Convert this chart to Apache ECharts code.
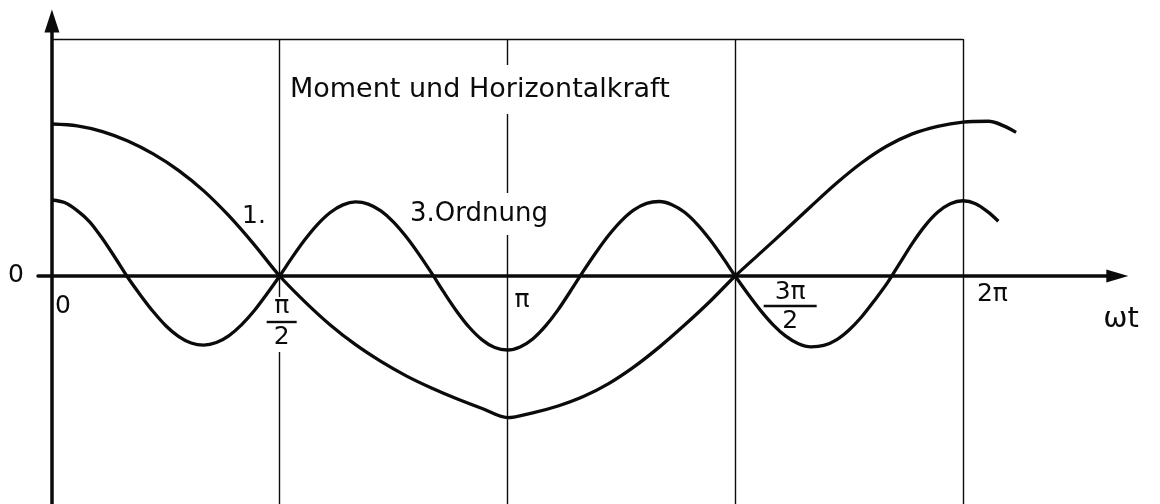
<!DOCTYPE html>
<html>
<head>
<meta charset="utf-8">
<script src="https://cdn.jsdelivr.net/npm/echarts@6/dist/echarts.min.js"></script>
<style>
html, body { margin: 0; padding: 0; background: #ffffff; }
#chart { width: 1160px; height: 504px; }
</style>
</head>
<body>
<div id="chart"></div>
<script>
// ---------------- data (angle ωt in degrees, relative amplitude) ----------------
const c1Angles = [0, 10, 20, 30, 40, 50, 60, 70, 80, 90, 100, 110, 120, 130, 140, 150, 160, 170, 180,
  190, 200, 210, 220, 230, 240, 250, 260, 270, 280, 290, 300, 310, 320, 330, 340, 350, 360, 370, 381];
const c1Values = [1.0, 0.988, 0.95, 0.888, 0.803, 0.695, 0.56, 0.395, 0.205, 0, -0.17, -0.322, -0.452, -0.562,
  -0.657, -0.737, -0.808, -0.872, -0.932, -0.90, -0.855, -0.793, -0.708, -0.598, -0.468, -0.323, -0.168, 0,
  0.152, 0.304, 0.459, 0.61, 0.745, 0.855, 0.935, 0.985, 1.013, 1.018, 0.945];

const c3Angles = [0, 5, 10, 15, 20, 25, 30, 35, 40, 45, 50, 55, 60, 65, 70, 75, 80, 85, 90,
  95, 100, 105, 110, 115, 120, 125, 130, 135, 140, 145, 150, 155, 160, 165, 170, 175, 180,
  185, 190, 195, 200, 205, 210, 215, 220, 225, 230, 235, 240, 245, 250, 255, 260, 265, 270,
  275, 280, 285, 290, 295, 300, 305, 310, 315, 320, 325, 330, 335, 340, 345, 350, 355, 360,
  365, 370, 374];
const c3Values = [0.50, 0.483, 0.43, 0.355, 0.245, 0.12, -0.01, -0.126, -0.234, -0.327, -0.397, -0.441, -0.455,
  -0.438, -0.392, -0.32, -0.227, -0.117, 0,
  0.124, 0.24, 0.34, 0.418, 0.468, 0.487, 0.473, 0.428, 0.355, 0.258, 0.144, 0.02,
  -0.11, -0.233, -0.339, -0.42, -0.471, -0.487,
  -0.467, -0.414, -0.33, -0.223, -0.097, 0.032, 0.155, 0.268, 0.363, 0.435, 0.478, 0.49,
  0.469, 0.419, 0.34, 0.24, 0.124, 0,
  -0.117, -0.226, -0.321, -0.396, -0.446, -0.466, -0.457, -0.42, -0.355, -0.268, -0.162, -0.049,
  0.083, 0.215, 0.33, 0.419, 0.475, 0.495,
  0.476, 0.42, 0.36];

const tickAngles = [0, 90, 180, 270, 360];
const tickNumerators = ['0', 'π', 'π', '3π', '2π'];
const tickDenominators = ['', '2', '', '2', ''];
const gridLineAngles = [90, 180, 270, 360];
const frameTopValue = 1.559;

const titleText = 'Moment und Horizontalkraft';
const label1Text = '1.';
const label3Text = '3.Ordnung';
const xAxisName = 'ωt';
const yZeroLabel = '0';

// ---------------- chart ----------------
const INK = '#0b0b0b';
const FONT = '"DejaVu Sans", "Liberation Sans", sans-serif';
const xMin = -5.5, xMax = 421, yMin = -1.5, yMax = 1.6776;

const chart = echarts.init(document.getElementById('chart'), null, { renderer: 'canvas' });

const frameLines = gridLineAngles.map(a => [{ coord: [a, frameTopValue] }, { coord: [a, yMin] }]);
frameLines.push([{ coord: [0, frameTopValue] }, { coord: [gridLineAngles[gridLineAngles.length - 1], frameTopValue] }]);

chart.setOption({
  animation: false,
  backgroundColor: '#ffffff',
  grid: { left: 38, right: 42.7, top: 21, bottom: 0, containLabel: false, outerBoundsMode: 'none' },
  xAxis: {
    type: 'value', min: xMin, max: xMax,
    axisLine: { onZero: true, lineStyle: { color: INK, width: 3.5 }, symbol: ['none', 'triangle'], symbolSize: [13, 22] },
    axisTick: { show: false }, axisLabel: { show: false }, splitLine: { show: false }
  },
  yAxis: {
    type: 'value', min: yMin, max: yMax, interval: 0.25,
    axisLine: { onZero: true, lineStyle: { color: INK, width: 3.5 }, symbol: ['none', 'triangle'], symbolSize: [15, 23] },
    axisTick: { show: false }, splitLine: { show: false },
    axisLabel: { formatter: v => (Math.abs(v) < 1e-9 ? yZeroLabel : ''), margin: 14, fontSize: 25, color: INK, fontFamily: FONT }
  },
  series: [
    {
      type: 'line', name: 'frame', data: [], silent: true, z: 1,
      markLine: { z: 1, silent: true, symbol: ['none', 'none'], label: { show: false },
        lineStyle: { type: 'solid', color: INK, width: 1.4 }, data: frameLines }
    },
    {
      type: 'line', name: '1. Ordnung', data: c1Angles.map((a, i) => [a, c1Values[i]]),
      smooth: 0.3, symbol: 'none', z: 4, lineStyle: { color: INK, width: 3.3 }
    },
    {
      type: 'line', name: '3. Ordnung', data: c3Angles.map((a, i) => [a, c3Values[i]]),
      smooth: 0.3, symbol: 'none', z: 4, lineStyle: { color: INK, width: 3.3 }
    }
  ]
});

// ---------------- text annotations (anchored through the axes' scales) ----------------
const tickLayout = {
  0:   { dx: 3, dy: 31 },
  90:  { frac: true, dx: 2, numDy: 31, barDy: 46, denDy: 62, barW: 30, mask: [297, 352] },
  180: { dx: 7, dy: 25 },
  270: { frac: true, dx: 55, numDy: 17, barDy: 30, denDy: 46, barW: 53 },
  360: { dx: 14, dy: 19 }
};
const tickFont = '25px ' + FONT;
const elements = [];
tickAngles.forEach((a, i) => {
  const p = chart.convertToPixel({ gridIndex: 0 }, [a, 0]);
  const L = tickLayout[a];
  if (!L.frac) {
    elements.push({ type: 'text', x: p[0] + L.dx, y: p[1] + L.dy, z: 3,
      style: { text: tickNumerators[i], font: tickFont, fill: INK, align: 'left', verticalAlign: 'middle' } });
  } else {
    const cx = p[0] + L.dx;
    if (L.mask) {
      elements.push({ type: 'rect', z: 2, shape: { x: cx - L.barW / 2 - 2, y: L.mask[0], width: L.barW + 4, height: L.mask[1] - L.mask[0] },
        style: { fill: '#ffffff' } });
    }
    elements.push({ type: 'text', x: cx, y: p[1] + L.numDy, z: 3,
      style: { text: tickNumerators[i], font: tickFont, fill: INK, align: 'center', verticalAlign: 'middle' } });
    elements.push({ type: 'rect', z: 3, shape: { x: cx - L.barW / 2, y: p[1] + L.barDy - 1.2, width: L.barW, height: 2.4 },
      style: { fill: INK } });
    elements.push({ type: 'text', x: cx, y: p[1] + L.denDy, z: 3,
      style: { text: tickDenominators[i], font: tickFont, fill: INK, align: 'center', verticalAlign: 'middle' } });
  }
});

// axis name ωt, anchored to the end of the x axis
const axisEnd = chart.convertToPixel({ gridIndex: 0 }, [xMax, 0]);
elements.push({ type: 'text', x: axisEnd[0] - 14, y: axisEnd[1] + 43, z: 3,
  style: { text: xAxisName, font: '29px ' + FONT, fill: INK, align: 'left', verticalAlign: 'middle' } });

elements.push({ type: 'text', left: 284, top: 65, z: 3,
  style: { text: titleText, font: '27px ' + FONT, fill: INK, backgroundColor: '#ffffff', padding: [11, 6, 11, 6] } });
elements.push({ type: 'text', left: 404, top: 193, z: 3,
  style: { text: label3Text, font: '26px ' + FONT, fill: INK, backgroundColor: '#ffffff', padding: [8, 6, 8, 6] } });
elements.push({ type: 'text', left: 242, top: 204, z: 3,
  style: { text: label1Text, font: '25px ' + FONT, fill: INK } });

chart.setOption({ graphic: { elements: elements } });
</script>
</body>
</html>
